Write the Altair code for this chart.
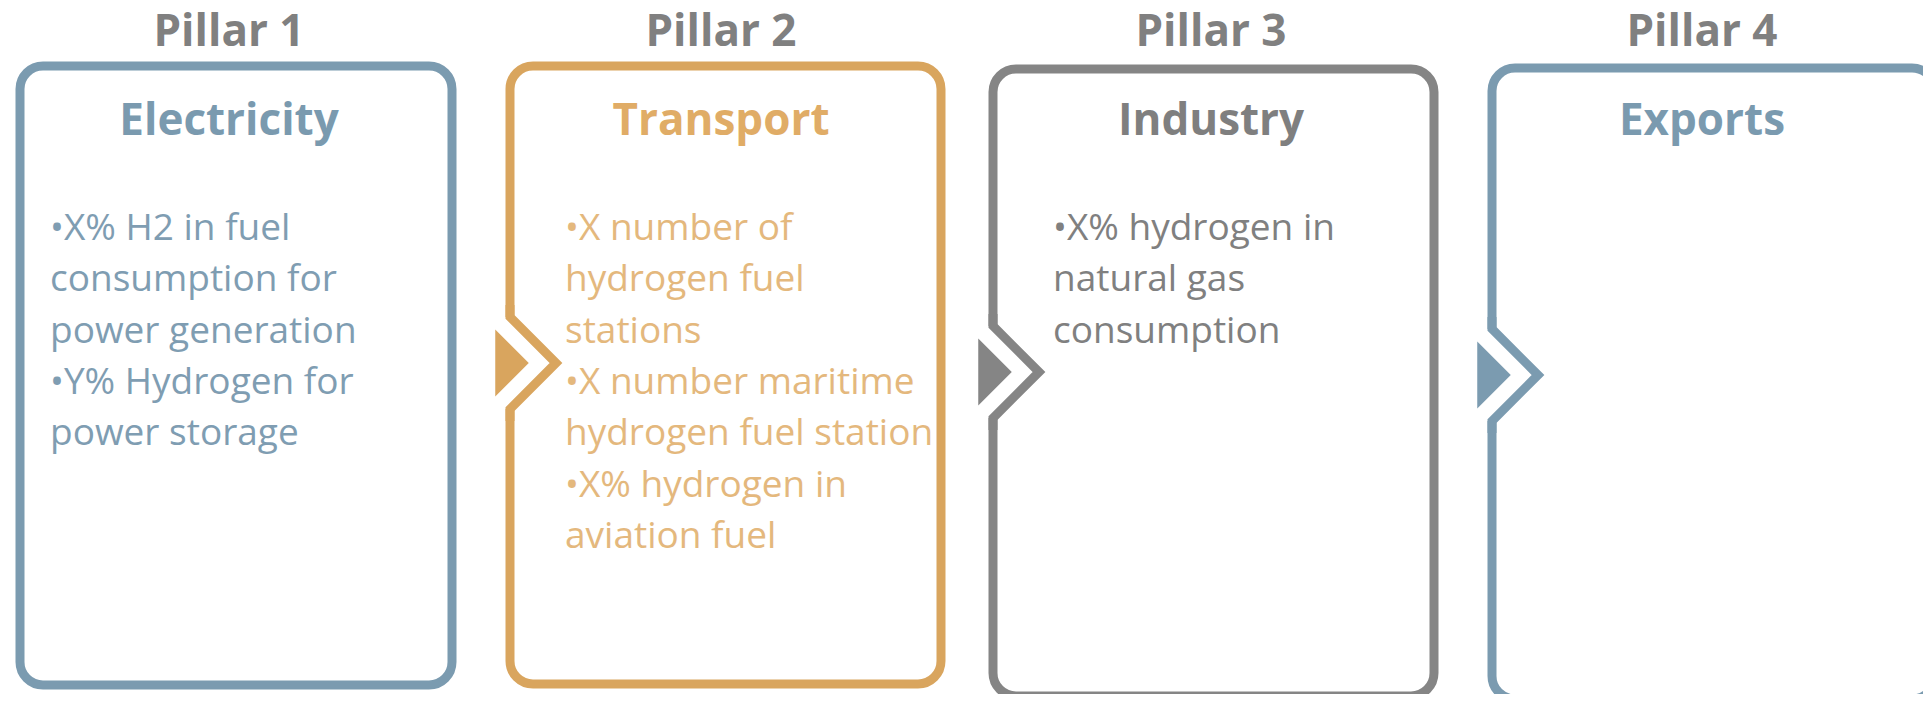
import altair as alt
import pandas as pd

# ---------------- content ----------------
pillars = ["Pillar 1", "Pillar 2", "Pillar 3", "Pillar 4"]
sectors = ["Electricity", "Transport", "Industry", "Exports"]
bullets = [
    ["•X% H2 in fuel", "consumption for", "power generation", "•Y% Hydrogen for", "power storage"],
    ["•X number of", "hydrogen fuel", "stations", "•X number maritime",
     "hydrogen fuel station", "•X% hydrogen in", "aviation fuel"],
    ["•X% hydrogen in", "natural gas", "consumption"],
    [],
]

# ---------------- styles ----------------
border_colors = ["#7b9bb0", "#d9a55e", "#858585", "#7b9bb0"]
title_colors = ["#7a9aaf", "#e0ac66", "#7f7f7f", "#7a9aaf"]
text_colors = ["#7f9db2", "#e4b87d", "#808080", "#7f9db2"]
pillar_label_color = "#808080"

# ---------------- layout (reference pixel space) ----------------
box_left = [20, 510, 993, 1492]
box_right = [452, 941, 1434, 1935]
box_top = [66, 66, 69, 68]
box_bottom = [685, 684, 696, 699]
notch_y = [None, 363, 372, 375]
title_x = [229, 721, 1211, 1702]
text_x = [50, 565, 1053, 1550]
label_base = 46
sector_base = 135
first_line = 240
line_step = 51.3
notch = 46

X_DOM = [8, 1923]
Y_DOM = [694, 8]
xs = alt.Scale(domain=X_DOM, nice=False)
ys = alt.Scale(domain=Y_DOM, nice=False)

# ---------------- tables ----------------
boxes = pd.DataFrame({
    "pillar": pillars,
    "x0": box_left, "x1": box_right, "y0": box_top, "y1": box_bottom,
    "border": border_colors,
})

covers, vrows, tris = [], [], []
for i, p in enumerate(pillars):
    ny = notch_y[i]
    if ny is None:
        continue
    L = box_left[i]
    covers.append({"pillar": p, "x0": L - 7, "x1": L + 7, "y0": ny - notch, "y1": ny + notch})
    pts = [(L, ny - notch - 12), (L, ny - notch), (L + notch, ny), (L, ny + notch), (L, ny + notch + 12)]
    for k, (px, py) in enumerate(pts):
        vrows.append({"pillar": p, "x": px, "y": py, "o": k, "border": border_colors[i]})
    tris.append({"pillar": p, "x": L + 2, "y": ny, "border": border_colors[i]})
covers = pd.DataFrame(covers)
vlines = pd.DataFrame(vrows)
tris = pd.DataFrame(tris)

labels = pd.DataFrame({"text": pillars, "x": title_x, "y": [label_base] * 4})
titles = pd.DataFrame({"text": sectors, "x": title_x, "y": [sector_base] * 4, "c": title_colors})

trows = []
for i, lines in enumerate(bullets):
    for k, t in enumerate(lines):
        trows.append({"text": t, "x": text_x[i], "y": first_line + k * line_step, "c": text_colors[i]})
body = pd.DataFrame(trows)

X = lambda f: alt.X(f, type="quantitative", scale=xs, axis=None)
Y = lambda f: alt.Y(f, type="quantitative", scale=ys, axis=None)

rects = alt.Chart(boxes).mark_rect(cornerRadius=23, strokeWidth=9, fill="white").encode(
    x=X("x0"), x2="x1", y=Y("y0"), y2="y1",
    stroke=alt.Stroke("border:N", scale=None),
)

cover = alt.Chart(covers).mark_rect(fill="white", strokeWidth=0).encode(
    x=X("x0"), x2="x1", y=Y("y0"), y2="y1",
)

vee = alt.Chart(vlines).mark_line(strokeWidth=9, strokeJoin="miter", strokeCap="butt").encode(
    x=X("x"), y=Y("y"), order="o:Q", detail="pillar:N",
    color=alt.Color("border:N", scale=None),
)

arrow = alt.Chart(tris).mark_point(
    shape="M-0.5,-1L0.5,0L-0.5,1Z", filled=True, size=4489, opacity=1, strokeWidth=0
).encode(
    x=X("x"), y=Y("y"), color=alt.Color("border:N", scale=None),
)

label_text = alt.Chart(labels).mark_text(
    font="Open Sans", fontWeight="bold", fontSize=44, baseline="alphabetic",
    align="center", color=pillar_label_color,
).encode(x=X("x"), y=Y("y"), text="text:N")

title_text = alt.Chart(titles).mark_text(
    font="Open Sans", fontWeight="bold", fontSize=44, baseline="alphabetic", align="center",
).encode(x=X("x"), y=Y("y"), text="text:N", color=alt.Color("c:N", scale=None))

body_text = alt.Chart(body).mark_text(
    font="Open Sans", fontSize=37, baseline="alphabetic", align="left",
).encode(x=X("x"), y=Y("y"), text="text:N", color=alt.Color("c:N", scale=None))

chart = alt.layer(rects, cover, vee, arrow, label_text, title_text, body_text).properties(
    width=1915, height=686, padding=0, autosize="none", background="white",
).configure_view(strokeWidth=0)

chart.save("out.html", embed_options={"renderer": "svg", "actions": False})
